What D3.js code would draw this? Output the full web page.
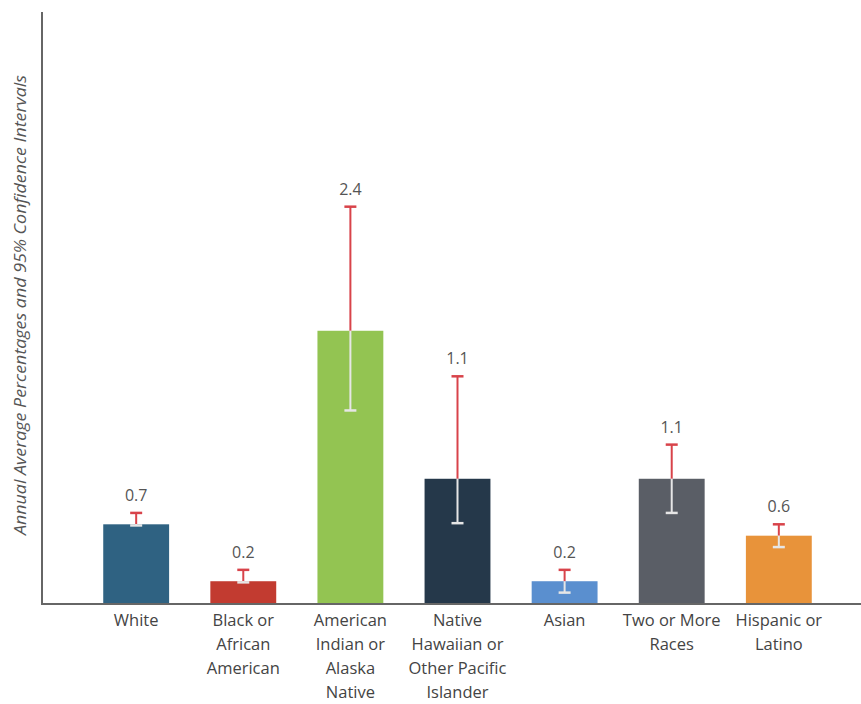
<!DOCTYPE html>
<html>
<head>
<meta charset="utf-8">
<script src="https://cdn.jsdelivr.net/npm/d3@7"></script>
<style>
  html, body { margin: 0; padding: 0; background: #fff; }
  svg { display: block; font-family: "Open Sans", "Noto Sans", sans-serif; }
</style>
</head>
<body>
<svg id="chart" width="861" height="704"></svg>
<script>
// Race/ethnicity groups (label lines) and annual average percentages with 95% CIs
const categories = [
  ["White"],
  ["Black or", "African", "American"],
  ["American", "Indian or", "Alaska", "Native"],
  ["Native", "Hawaiian or", "Other Pacific", "Islander"],
  ["Asian"],
  ["Two or More", "Races"],
  ["Hispanic or", "Latino"]
];
const values = [0.7, 0.2, 2.4, 1.1, 0.2, 1.1, 0.6];
const ciLower = [0.69, 0.19, 1.70, 0.71, 0.10, 0.80, 0.50];
const ciUpper = [0.80, 0.30, 3.49, 2.00, 0.30, 1.40, 0.70];
const barColors = ["#2f6282", "#c23b30", "#93c452", "#25384a", "#5a8fcf", "#5a5e66", "#e8933a"];
const yTitle = "Annual Average Percentages and 95% Confidence Intervals";

const svg = d3.select("#chart");
const baseY = 604, topY = 12, axisX = 42, rightX = 861;

const keys = categories.map(c => c.join(" "));
const x = d3.scaleBand().domain(keys).range([62, 853]).padding(0.385);
const y = d3.scaleLinear().domain([0, 5.2]).range([baseY, topY]);

const data = keys.map((k, i) => ({
  key: k, lines: categories[i], value: values[i],
  lo: ciLower[i], hi: ciUpper[i], color: barColors[i]
}));

// bars
svg.append("g").selectAll("rect").data(data).join("rect")
  .attr("x", d => x(d.key))
  .attr("y", d => y(d.value))
  .attr("width", x.bandwidth())
  .attr("height", d => y(0) - y(d.value))
  .attr("fill", d => d.color);

// error bars: red above the bar, light grey within it
const capW = 12;
const eb = svg.append("g").selectAll("g").data(data).join("g")
  .attr("transform", d => `translate(${x(d.key) + x.bandwidth() / 2},0)`);
eb.append("line")
  .attr("y1", d => y(d.hi)).attr("y2", d => y(d.value))
  .attr("stroke", "#d8434a").attr("stroke-width", 2);
eb.append("line")
  .attr("x1", -capW / 2).attr("x2", capW / 2)
  .attr("y1", d => y(d.hi)).attr("y2", d => y(d.hi))
  .attr("stroke", "#d8434a").attr("stroke-width", 2.5);
eb.append("line")
  .attr("y1", d => y(d.value)).attr("y2", d => y(d.lo))
  .attr("stroke", "#e6e6e6").attr("stroke-width", 2);
eb.append("line")
  .attr("x1", -capW / 2).attr("x2", capW / 2)
  .attr("y1", d => y(d.lo)).attr("y2", d => y(d.lo))
  .attr("stroke", "#e6e6e6").attr("stroke-width", 2.5);

// value labels
eb.append("text")
  .attr("y", d => y(d.hi) - 12)
  .attr("text-anchor", "middle")
  .attr("font-size", 16)
  .attr("fill", "#555")
  .text(d => d.value.toFixed(1));

// axes
const yAxis = d3.axisLeft(y).ticks(0).tickSize(0).tickFormat("");
svg.append("g").attr("transform", `translate(${axisX},0)`).call(yAxis)
  .call(g => g.select(".domain").attr("stroke", "#666").attr("stroke-width", 2)
    .attr("d", `M0,${topY}V${baseY}`));

const xAxis = d3.axisBottom(x).tickSize(0).tickFormat("");
const xg = svg.append("g").attr("transform", `translate(0,${baseY})`).call(xAxis);
xg.select(".domain").attr("stroke", "#666").attr("stroke-width", 2)
  .attr("d", `M${axisX - 1},0H${rightX}`);

// category labels
const lab = svg.append("g").selectAll("text").data(data).join("text")
  .attr("x", d => x(d.key) + x.bandwidth() / 2)
  .attr("y", 626)
  .attr("text-anchor", "middle")
  .attr("font-size", 16.5)
  .attr("fill", "#444");
lab.selectAll("tspan").data(d => d.lines).join("tspan")
  .attr("x", function() { return d3.select(this.parentNode).attr("x"); })
  .attr("dy", (d, i) => i === 0 ? 0 : 24)
  .text(d => d);

// y-axis title
svg.append("text")
  .attr("transform", "translate(26,305) rotate(-90)")
  .attr("text-anchor", "middle")
  .attr("font-size", 17)
  .attr("font-style", "italic")
  .attr("fill", "#555")
  .attr("textLength", 460)
  .attr("lengthAdjust", "spacingAndGlyphs")
  .text(yTitle);
</script>
</body>
</html>
